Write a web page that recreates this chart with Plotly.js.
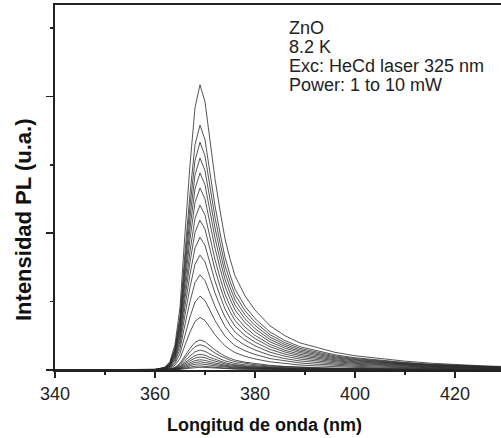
<!DOCTYPE html>
<html>
<head>
<meta charset="utf-8">
<script src="https://cdn.plot.ly/plotly-3.0.1.min.js"></script>
<style>html,body{margin:0;padding:0;background:#fff;}#chart{width:501px;height:438px;}</style>
</head>
<body>
<div id="chart"></div>
<script>
// Wavelength grid (nm) and normalized PL line shape
const wavelength = [340, 355, 360, 362, 363, 364, 365, 366, 367, 368, 369, 370, 371, 372, 373, 374, 375, 376, 378, 380, 383, 386, 389, 392, 396, 400, 405, 410, 415, 420, 425, 430];
const lineShape  = [0, 0, 0.002, 0.01, 0.03, 0.09, 0.22, 0.48, 0.72, 0.92, 1.0, 0.94, 0.8, 0.67, 0.56, 0.46, 0.39, 0.33, 0.26, 0.21, 0.155, 0.12, 0.095, 0.08, 0.062, 0.05, 0.04, 0.031, 0.024, 0.019, 0.015, 0.012];
// Peak intensities (a.u., one per excitation power)
const peakIntensity = [4.17, 3.58, 3.33, 3.10, 2.88, 2.66, 2.41, 2.19, 1.94, 1.68, 1.39, 1.08, 0.77, 0.44, 0.37, 0.29, 0.23, 0.19, 0.15, 0.12, 0.09, 0.06, 0.04];
const xTicks = [340, 360, 380, 400, 420];
const infoLines = ["ZnO", "8.2 K", "Exc: HeCd laser 325 nm", "Power: 1 to 10 mW"];

const traces = peakIntensity.map(a => ({
  x: wavelength,
  y: lineShape.map(v => v * a),
  type: 'scatter', mode: 'lines',
  line: {color: '#2a2a2a', width: 0.8},
  hoverinfo: 'skip', showlegend: false
}));

const font = 'Arial, "Liberation Sans", sans-serif';
const pxPerUnit = 68.4;
const infoY = [28, 47, 66, 85];
const annotations = infoLines.map((t, i) => ({
  text: t, xref: 'x', yref: 'y', x: 386.5, y: (370 - infoY[i]) / pxPerUnit,
  xanchor: 'left', yanchor: 'middle', showarrow: false,
  height: 18, borderpad: 0,
  font: {family: font, size: 18, color: '#222'}
}));
annotations.push({
  text: '<b>Intensidad PL (u.a.)</b>', xref: 'paper', yref: 'paper',
  x: (23 - 55) / 446, y: (370 - 220) / 365, textangle: -90,
  xanchor: 'center', yanchor: 'middle', showarrow: false,
  font: {family: font, size: 22, color: '#111'}
});
annotations.push({
  text: '<b>Longitud de onda (nm)</b>', xref: 'paper', yref: 'paper',
  x: (264 - 55) / 446, y: (370 - 425) / 365,
  xanchor: 'center', yanchor: 'middle', showarrow: false,
  font: {family: font, size: 18, color: '#111'}
});

const layout = {
  width: 501, height: 438,
  margin: {l: 55, r: 0, t: 5, b: 68},
  paper_bgcolor: '#fff', plot_bgcolor: '#fff',
  showlegend: false,
  xaxis: {
    range: [340, 340 + 446 / 5], tickvals: xTicks, ticktext: xTicks.map(String),
    ticks: 'outside', ticklen: 6, tickwidth: 1.5, tickcolor: '#222',
    minor: {dtick: 10, ticks: 'outside', ticklen: 3, tickwidth: 1.5, tickcolor: '#222'},
    showline: true, linecolor: '#222', linewidth: 2, mirror: true,
    showgrid: false, zeroline: false,
    tickfont: {family: font, size: 18, color: '#222'}
  },
  yaxis: {
    range: [0, 365 / pxPerUnit], dtick: 2, tick0: 0,
    ticks: 'outside', ticklen: 7, tickwidth: 1.5, tickcolor: '#222',
    minor: {dtick: 1, ticks: 'outside', ticklen: 3, tickwidth: 1.5, tickcolor: '#222'},
    showticklabels: false,
    showline: true, linecolor: '#222', linewidth: 2,
    showgrid: false, zeroline: false
  },
  annotations: annotations
};

Plotly.newPlot('chart', traces, layout, {staticPlot: true, displayModeBar: false});
</script>
</body>
</html>
